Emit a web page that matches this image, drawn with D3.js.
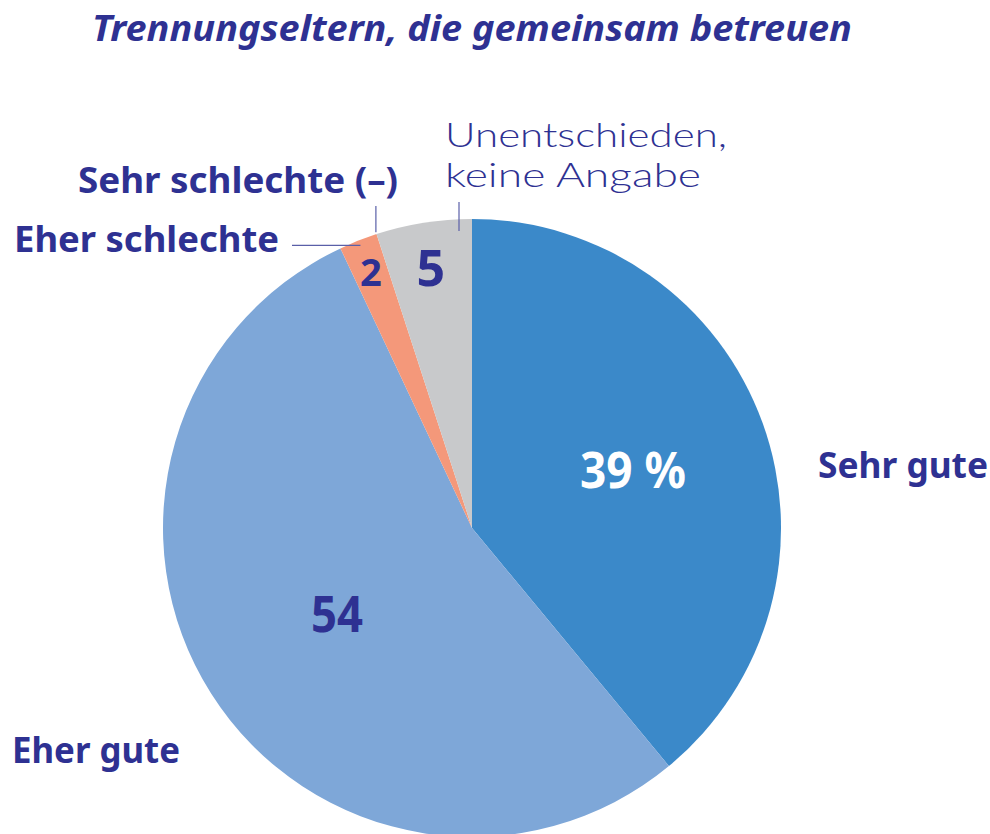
<!DOCTYPE html>
<html><head><meta charset="utf-8">
<script src="https://cdn.jsdelivr.net/npm/d3@7"></script>
<style>body{margin:0;background:#fff}svg{display:block}</style>
</head><body>
<script>
const title = "Trennungseltern, die gemeinsam betreuen";
const categories = ["Sehr gute", "Eher gute", "Eher schlechte", "Sehr schlechte (–)", "Unentschieden, keine Angabe"];
const values = [39, 54, 2, 0, 5];
const valueLabels = ["39 %", "54", "2", "", "5"];
const colors = ["#3b89c9", "#7ea7d8", "#f4987a", "#e05a4f", "#c8c9cb"];

const W = 990, H = 834, cx = 472, cy = 528, R = 309;
const ink = "#2e3192";
const font = "'Noto Sans', 'DejaVu Sans', sans-serif";
const lightFont = "Lato, 'DejaVu Sans', sans-serif";

const svg = d3.select("body").append("svg").attr("width", W).attr("height", H);

svg.append("text").attr("x", 92).attr("y", 41)
  .attr("font-family", font).attr("font-weight", 700).attr("font-style", "italic")
  .attr("font-size", 36).attr("fill", ink).attr("textLength", 760).attr("lengthAdjust", "spacingAndGlyphs")
  .text(title);

const data = categories.map((c, i) => ({cat: c, value: values[i], label: valueLabels[i], color: colors[i]}));
const pie = d3.pie().sort(null).value(d => d.value).startAngle(0).endAngle(2 * Math.PI);
const arcs = pie(data);
const arc = d3.arc().innerRadius(0).outerRadius(R);
const g = svg.append("g").attr("transform", `translate(${cx},${cy})`);

g.selectAll("path").data(arcs.filter(a => a.value > 0)).join("path")
  .attr("d", arc).attr("fill", d => d.data.color);

// value labels at tuned radii along each slice's mid angle
const labelR = [171, 160, 275, 0, 263];
const labelSize = [50, 50, 38, 0, 50];
const labelLen = [106, 52, 0, 0, 0];
const labelColor = ["#ffffff", ink, ink, ink, ink];
arcs.forEach((a, i) => {
  if (!a.data.label) return;
  const m = (a.startAngle + a.endAngle) / 2;
  const x = Math.sin(m) * labelR[i], y = -Math.cos(m) * labelR[i];
  const t = g.append("text").attr("x", x).attr("y", y).attr("dy", "0.36em")
    .attr("text-anchor", "middle").attr("font-family", font).attr("font-weight", 700)
    .attr("font-size", labelSize[i]).attr("fill", labelColor[i]).text(a.data.label);
  if (labelLen[i]) t.attr("textLength", labelLen[i]).attr("lengthAdjust", "spacingAndGlyphs");
});

const lineColor = "#5a5fa8";
// Eher schlechte: horizontal line into the orange slice
{
  const a = arcs[2].startAngle;
  const py = -Math.cos(a) * R - 3;
  const px = Math.sin(a) * R + 20;
  g.append("line").attr("x1", 292 - cx).attr("y1", py).attr("x2", px).attr("y2", py)
    .attr("stroke", lineColor).attr("stroke-width", 1.2);
}
// Sehr schlechte: vertical line down to boundary
{
  const a = arcs[4].startAngle;
  const px = Math.sin(a) * (R + 2), py = -Math.cos(a) * (R + 2);
  g.append("line").attr("x1", px).attr("y1", 206 - cy).attr("x2", px).attr("y2", py)
    .attr("stroke", lineColor).attr("stroke-width", 1.2);
}
// Unentschieden: vertical line into grey slice
{
  const x = 459 - cx;
  g.append("line").attr("x1", x).attr("y1", 202 - cy).attr("x2", x).attr("y2", 231 - cy)
    .attr("stroke", lineColor).attr("stroke-width", 1.2);
}

// category labels
const catLabels = [
  {t: [categories[0]], x: 818, y: 478, w: [170], weight: 700, size: 36, f: font},
  {t: [categories[1]], x: 12, y: 763, w: [168], weight: 700, size: 36, f: font},
  {t: [categories[2]], x: 14, y: 252, w: [265], weight: 700, size: 36, f: font},
  {t: [categories[3]], x: 78, y: 193, w: [320], weight: 700, size: 36, f: font},
  {t: ["Unentschieden,", "keine Angabe"], x: 445, y: 147, w: [282, 256], weight: 300, size: 33, f: lightFont}
];
catLabels.forEach(l => {
  l.t.forEach((s, j) => {
    svg.append("text").attr("font-family", l.f).attr("font-weight", l.weight)
      .attr("font-size", l.size).attr("fill", ink)
      .attr("x", l.x).attr("y", l.y + j * 40).text(s)
      .attr("textLength", l.w[j]).attr("lengthAdjust", "spacingAndGlyphs");
  });
});
</script>
</body></html>
